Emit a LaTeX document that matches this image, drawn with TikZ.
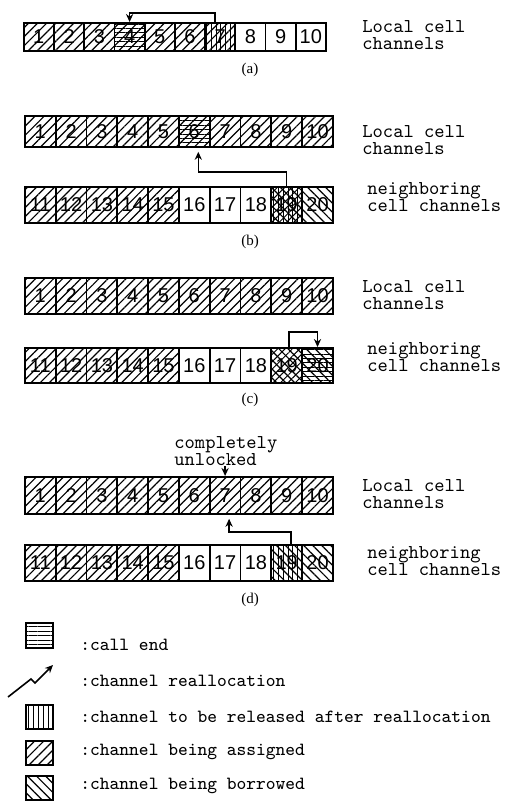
\documentclass[tikz,border=0pt]{standalone}
\usepackage{fontspec}
\setsansfont{Liberation Sans}
\newfontfamily\capfont{Liberation Serif}
\usetikzlibrary{arrows.meta,patterns.meta,positioning}

\begin{document}
\begin{tikzpicture}[x=0.5pt,y=-0.5pt,>={Stealth[length=4pt,width=3.6pt]},
  cell/.style={draw,line width=0.9pt,inner sep=0pt,minimum width=15.4pt,minimum height=#1,anchor=north west,font=\sffamily\fontsize{10}{10}\selectfont},
  cell/.default=17pt,
  asg/.style={pattern={Lines[angle=45,distance=3.2pt,line width=0.6pt]}},
  brw/.style={pattern={Lines[angle=-45,distance=3.2pt,line width=0.6pt]}},
  endl/.style={postaction={pattern={Lines[angle=0,distance=2.2pt,line width=0.5pt]}}},
  rell/.style={postaction={pattern={Lines[angle=90,distance=2.4pt,line width=0.5pt]}}},
  free/.style={},
  asgend/.style={asg,endl},
  asgrel/.style={asg,rell},
  brwend/.style={brw,endl},
  brwrel/.style={brw,rell},
  brwx/.style={brw,postaction={pattern={Lines[angle=45,distance=2.6pt,line width=0.5pt]}}},
  dense/.style={brw,rell,postaction={pattern={Lines[angle=45,distance=2.6pt,line width=0.5pt]}}},
  rowlbl/.style={anchor=west,align=left,inner sep=0pt,font=\ttfamily\fontsize{9.8}{8.5}\selectfont},
  keytxt/.style={anchor=west,inner sep=0pt,font=\ttfamily\fontsize{9.3}{8.5}\selectfont},
  keybox/.style={draw,line width=1pt,inner sep=0pt,minimum width=13.5pt,minimum height=12pt,anchor=north west},
  sublbl/.style={font=\capfont\fontsize{7.5}{8}\selectfont},
  link/.style={->,line width=0.8pt}]
\useasboundingbox (0,0) rectangle (507,803);

% (a)
\foreach \i/\s in {1/asg,2/asg,3/asg,4/asgend,5/asg,6/asg,7/asgrel,8/free,9/free,10/free}
  \node[cell=14pt,minimum width=15.1pt,\s] (aL\i) at ({23+(\i-1)*30.2},22) {\i};
\node[rowlbl] (lblaL) at (362,35) {Local cell\\channels};
\draw[link] ([xshift=-2.5pt]aL7.north) -- ++(0,-9) -| (aL4.north);
\node[sublbl] (capa) at (250,70) {(a)};

% (b)
\foreach \i/\s in {1/asg,2/asg,3/asg,4/asg,5/asg,6/asgend,7/asg,8/asg,9/asg,10/asg}
  \node[cell=15.5pt,\s] (bL\i) at ({24+(\i-1)*30.8},115) {\i};
\foreach \i/\s in {11/asg,12/asg,13/asg,14/asg,15/asg,16/free,17/free,18/free,19/dense,20/brw}
  \node[cell=18pt,\s] (bN\i) at ({24+(\i-11)*30.8},186) {\i};
\node[rowlbl] (lblbL) at (362,140) {Local cell\\channels};
\node[rowlbl] (lblbN) at (367,197) {neighboring\\cell channels};
\draw[link,shorten >=2pt] (bN19.north) -- ++(0,-14) -| ([xshift=2pt]bL6.south);
\node[sublbl] (capb) at (250,242) {(b)};

% (c)
\foreach \i in {1,...,10}
  \node[cell=18pt,asg] (cL\i) at ({24+(\i-1)*30.8},277) {\i};
\foreach \i/\s in {11/asg,12/asg,13/asg,14/asg,15/asg,16/free,17/free,18/free,19/brwx,20/brwend}
  \node[cell=17.5pt,\s] (cN\i) at ({24+(\i-11)*30.8},347) {\i};
\node[rowlbl] (lblcL) at (362,295) {Local cell\\channels};
\node[rowlbl] (lblcN) at (367,357) {neighboring\\cell channels};
\draw[link] ([xshift=1pt]cN19.north) -- ++(0,-15) -| (cN20.north);
\node[sublbl] (capc) at (250,400) {(c)};

% (d)
\foreach \i in {1,...,10}
  \node[cell=18.5pt,asg] (dL\i) at ({24+(\i-1)*30.8},476) {\i};
\foreach \i/\s in {11/asg,12/asg,13/asg,14/asg,15/asg,16/free,17/free,18/free,19/brwrel,20/brw}
  \node[cell=18pt,\s] (dN\i) at ({24+(\i-11)*30.8},544) {\i};
\node[rowlbl] (lbldL) at (362,494) {Local cell\\channels};
\node[rowlbl] (lbldN) at (367,561) {neighboring\\cell channels};
\node[rowlbl,anchor=south west] (unlk) at (174,466) {completely\\unlocked};
\draw[link] (dL7.north |- unlk.south) -- (dL7.north);
\draw[link,shorten >=2pt] ([xshift=2pt]dN19.north) -- ++(0,-12) -| ([xshift=2pt]dL7.south);
\node[sublbl] (capd) at (250,600) {(d)};

% key
\node[keybox,minimum height=12.5pt,endl] (keyend) at (25,622) {};
\node[keytxt] (txtend) at (80,645) {:call end};
\coordinate (z0) at (8,697);
\coordinate (z1) at (31,679);
\coordinate (z2) at (35,683);
\coordinate (z3) at (53,665);
\draw[link] (z0) -- (z1) -- (z2) -- (z3);
\node[keytxt] (txtre) at (80,681) {:channel reallocation};
\node[keybox,rell] (keyrel) at (25,704) {};
\node[keytxt] (txtrel) at (80,717) {:channel to be released after reallocation};
\node[keybox,asg] (keyasg) at (25,740) {};
\node[keytxt] (txtasg) at (80,752) {:channel being assigned};
\node[keybox,brw] (keybrw) at (25,775) {};
\node[keytxt] (txtbrw) at (80,786) {:channel being borrowed};
\end{tikzpicture}
\end{document}
